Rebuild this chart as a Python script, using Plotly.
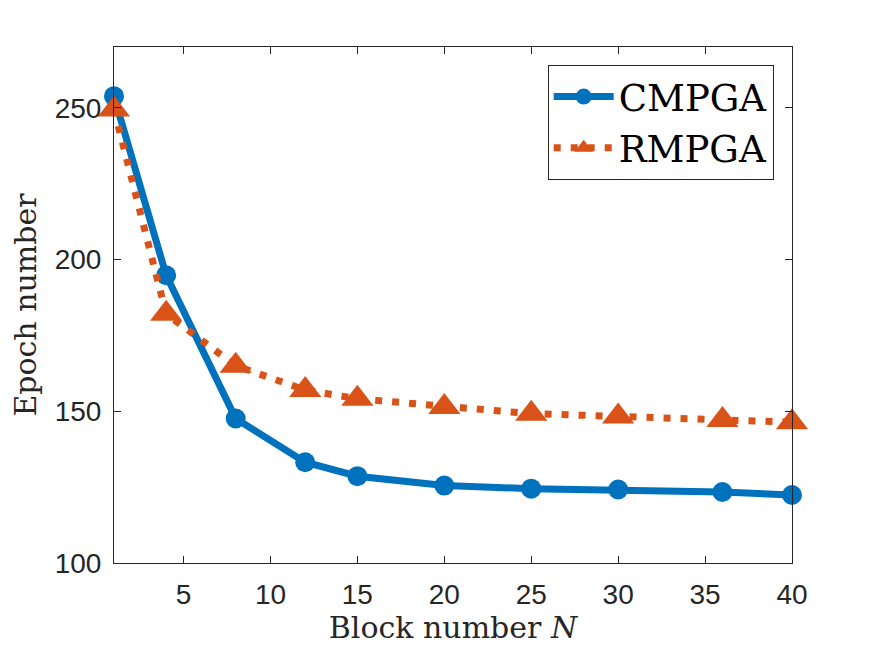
import plotly.graph_objects as go

# Block number N
block_n = [1, 4, 8, 12, 15, 20, 25, 30, 36, 40]

# Epoch numbers
cmpga = [253.8, 194.8, 147.6, 133.2, 128.6, 125.5, 124.5, 124.2, 123.4, 122.4]
rmpga = [249.4, 182.1, 165.0, 157.0, 154.1, 151.4, 149.2, 148.3, 147.1, 146.4]

x_ticks = [5, 10, 15, 20, 25, 30, 35, 40]
y_ticks = [100, 150, 200, 250]

fig = go.Figure()

fig.add_trace(go.Scatter(
    x=block_n, y=cmpga,
    mode='lines+markers',
    name='CMPGA',
    line=dict(color='#0072BD', width=7),
    marker=dict(symbol='circle', size=20, color='#0072BD'),
    cliponaxis=False
))

fig.add_trace(go.Scatter(
    x=block_n, y=rmpga,
    mode='lines+markers',
    name='RMPGA',
    line=dict(color='#D95319', width=7, dash='7px,10px'),
    marker=dict(symbol='triangle-up', size=28, color='#D95319'),
    cliponaxis=False
))

axis_common = dict(
    showline=True, linecolor='#262626', linewidth=1,
    mirror='allticks', ticks='inside', ticklen=7, tickwidth=1,
    tickcolor='#262626', showgrid=False, zeroline=False,
    tickfont=dict(family='Liberation Sans, Arial, sans-serif', size=28, color='#262626'),
)

# the page puts the figure 8px in from the top-left, so margins are shifted
fig.update_layout(
    width=875, height=656,
    margin=dict(l=106, r=91, t=39, b=101),
    paper_bgcolor='white', plot_bgcolor='white',
    xaxis=dict(
        range=[1, 40], tickvals=x_ticks, ticklabelstandoff=6,
        title=dict(text='Block number <i>N</i>', standoff=6,
                   font=dict(family='DejaVu Serif, serif', size=30, color='#262626')),
        **axis_common
    ),
    yaxis=dict(
        range=[100, 270], tickvals=y_ticks, ticklabelstandoff=6,
        title=dict(text='Epoch number', standoff=10,
                   font=dict(family='DejaVu Serif, serif', size=30, color='#262626')),
        **axis_common
    ),
    legend=dict(
        x=0.973, y=0.965, xanchor='right', yanchor='top',
        bgcolor='white', bordercolor='#262626', borderwidth=1,
        font=dict(family='DejaVu Serif, serif', size=37, color='black'),
        itemsizing='trace', itemwidth=60
    ),
    showlegend=True
)

fig.write_html("out.html")
